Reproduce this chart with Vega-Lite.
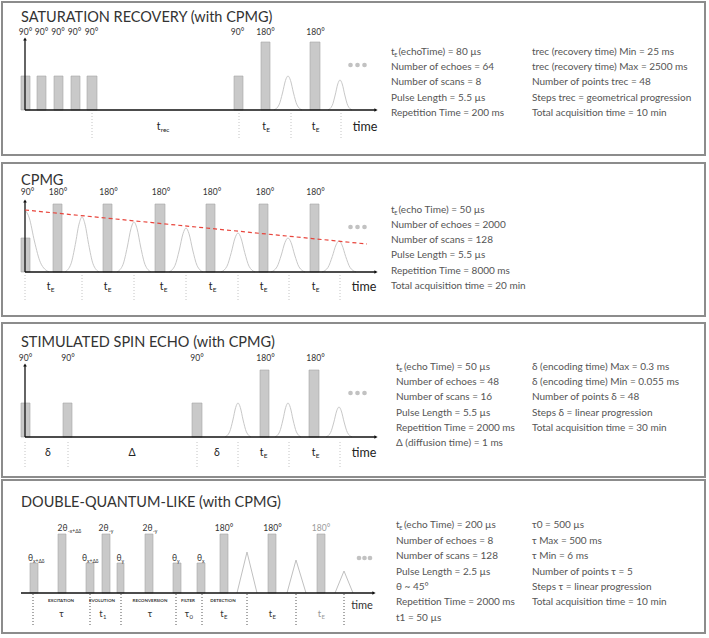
{
  "$schema": "https://vega.github.io/schema/vega-lite/v6.json",
  "width": 709,
  "height": 638,
  "autosize": "none",
  "padding": 0,
  "background": "white",
  "config": {"view": {"stroke": null}, "text": {"font": "Lato"}},
  "datasets": {
    "frames": [
      {"x": 2, "x2": 705, "y": 2, "y2": 155},
      {"x": 2, "x2": 705, "y": 163, "y2": 316},
      {"x": 2, "x2": 705, "y": 323, "y2": 477},
      {"x": 2, "x2": 705, "y": 480, "y2": 633}
    ],
    "axes": [
      {"x": 25, "y": 110, "x2": 25, "y2": 39},
      {"x": 25, "y": 110, "x2": 376, "y2": 110},
      {"x": 25, "y": 272, "x2": 25, "y2": 201},
      {"x": 25, "y": 272, "x2": 376, "y2": 272},
      {"x": 25, "y": 437, "x2": 25, "y2": 365},
      {"x": 25, "y": 437, "x2": 376, "y2": 437},
      {"x": 21, "y": 593, "x2": 374, "y2": 593}
    ],
    "arrows": [
      {"x": 25, "y": 39, "dir": "up"},
      {"x": 376, "y": 110, "dir": "right"},
      {"x": 25, "y": 201, "dir": "up"},
      {"x": 376, "y": 272, "dir": "right"},
      {"x": 25, "y": 365, "dir": "up"},
      {"x": 376, "y": 437, "dir": "right"},
      {"x": 374, "y": 593, "dir": "right"}
    ],
    "bars": [
      {"x": 21, "x2": 30, "y": 76, "y2": 110},
      {"x": 37, "x2": 46, "y": 76, "y2": 110},
      {"x": 54, "x2": 63, "y": 76, "y2": 110},
      {"x": 71, "x2": 80, "y": 76, "y2": 110},
      {"x": 87, "x2": 97, "y": 76, "y2": 110},
      {"x": 234, "x2": 243, "y": 76, "y2": 110},
      {"x": 261, "x2": 270, "y": 42, "y2": 110},
      {"x": 310, "x2": 320, "y": 42, "y2": 110},
      {"x": 21, "x2": 30, "y": 238, "y2": 272},
      {"x": 53, "x2": 62, "y": 204, "y2": 272},
      {"x": 103, "x2": 112, "y": 204, "y2": 272},
      {"x": 155, "x2": 165, "y": 204, "y2": 272},
      {"x": 206, "x2": 215, "y": 204, "y2": 272},
      {"x": 259, "x2": 268, "y": 204, "y2": 272},
      {"x": 310, "x2": 319, "y": 204, "y2": 272},
      {"x": 21, "x2": 30, "y": 403, "y2": 437},
      {"x": 63, "x2": 72, "y": 403, "y2": 437},
      {"x": 192, "x2": 202, "y": 403, "y2": 437},
      {"x": 260, "x2": 269, "y": 370, "y2": 437},
      {"x": 309, "x2": 319, "y": 370, "y2": 437},
      {"x": 30, "x2": 38, "y": 563, "y2": 593},
      {"x": 58, "x2": 66, "y": 534, "y2": 593},
      {"x": 86, "x2": 94, "y": 563, "y2": 593},
      {"x": 102, "x2": 110, "y": 534, "y2": 593},
      {"x": 117, "x2": 124, "y": 563, "y2": 593},
      {"x": 145, "x2": 153, "y": 534, "y2": 593},
      {"x": 173, "x2": 181, "y": 563, "y2": 593},
      {"x": 197, "x2": 205, "y": 563, "y2": 593},
      {"x": 220, "x2": 228, "y": 534, "y2": 593},
      {"x": 268, "x2": 276, "y": 534, "y2": 593},
      {"x": 317, "x2": 325, "y": 534, "y2": 593}
    ],
    "echoes": [
      {"id": "a1", "x": 274, "y": 110}, {"id": "a1", "x": 279, "y": 104.9}, {"id": "a1", "x": 282.5, "y": 93}, {"id": "a1", "x": 285.5, "y": 80.4}, {"id": "a1", "x": 288, "y": 76}, {"id": "a1", "x": 290.5, "y": 80.4}, {"id": "a1", "x": 293.5, "y": 93}, {"id": "a1", "x": 297, "y": 104.9}, {"id": "a1", "x": 302, "y": 110},
      {"id": "a2", "x": 328, "y": 110}, {"id": "a2", "x": 332.2, "y": 105.5}, {"id": "a2", "x": 335.2, "y": 95}, {"id": "a2", "x": 337.8, "y": 83.9}, {"id": "a2", "x": 340, "y": 80}, {"id": "a2", "x": 342.2, "y": 83.9}, {"id": "a2", "x": 344.8, "y": 95}, {"id": "a2", "x": 347.8, "y": 105.5}, {"id": "a2", "x": 352, "y": 110},
      {"id": "b0", "x": 25, "y": 210}, {"id": "b0", "x": 29.3, "y": 218}, {"id": "b0", "x": 34.4, "y": 241}, {"id": "b0", "x": 40.5, "y": 262.7}, {"id": "b0", "x": 49, "y": 272},
      {"id": "b1", "x": 65, "y": 272}, {"id": "b1", "x": 71, "y": 263.8}, {"id": "b1", "x": 75.3, "y": 244.5}, {"id": "b1", "x": 79, "y": 224.2}, {"id": "b1", "x": 82, "y": 217}, {"id": "b1", "x": 85, "y": 224.2}, {"id": "b1", "x": 88.7, "y": 244.5}, {"id": "b1", "x": 93, "y": 263.8}, {"id": "b1", "x": 99, "y": 272},
      {"id": "b2", "x": 117, "y": 272}, {"id": "b2", "x": 123, "y": 264.5}, {"id": "b2", "x": 127.3, "y": 247}, {"id": "b2", "x": 131, "y": 228.5}, {"id": "b2", "x": 134, "y": 222}, {"id": "b2", "x": 137, "y": 228.5}, {"id": "b2", "x": 140.7, "y": 247}, {"id": "b2", "x": 145, "y": 264.5}, {"id": "b2", "x": 151, "y": 272},
      {"id": "b3", "x": 169, "y": 272}, {"id": "b3", "x": 175, "y": 265.4}, {"id": "b3", "x": 179.3, "y": 250}, {"id": "b3", "x": 183, "y": 233.7}, {"id": "b3", "x": 186, "y": 228}, {"id": "b3", "x": 189, "y": 233.7}, {"id": "b3", "x": 192.7, "y": 250}, {"id": "b3", "x": 197, "y": 265.4}, {"id": "b3", "x": 203, "y": 272},
      {"id": "b4", "x": 221, "y": 272}, {"id": "b4", "x": 227, "y": 266.2}, {"id": "b4", "x": 231.3, "y": 252.5}, {"id": "b4", "x": 235, "y": 238.1}, {"id": "b4", "x": 238, "y": 233}, {"id": "b4", "x": 241, "y": 238.1}, {"id": "b4", "x": 244.7, "y": 252.5}, {"id": "b4", "x": 249, "y": 266.2}, {"id": "b4", "x": 255, "y": 272},
      {"id": "b5", "x": 271, "y": 272}, {"id": "b5", "x": 277, "y": 266.9}, {"id": "b5", "x": 281.3, "y": 255}, {"id": "b5", "x": 285, "y": 242.4}, {"id": "b5", "x": 288, "y": 238}, {"id": "b5", "x": 291, "y": 242.4}, {"id": "b5", "x": 294.7, "y": 255}, {"id": "b5", "x": 299, "y": 266.9}, {"id": "b5", "x": 305, "y": 272},
      {"id": "b6", "x": 322, "y": 272}, {"id": "b6", "x": 328, "y": 267.4}, {"id": "b6", "x": 332.3, "y": 256.5}, {"id": "b6", "x": 336, "y": 245}, {"id": "b6", "x": 339, "y": 241}, {"id": "b6", "x": 342, "y": 245}, {"id": "b6", "x": 345.7, "y": 256.5}, {"id": "b6", "x": 350, "y": 267.4}, {"id": "b6", "x": 356, "y": 272},
      {"id": "c1", "x": 225, "y": 437}, {"id": "c1", "x": 229.6, "y": 431.9}, {"id": "c1", "x": 232.9, "y": 420}, {"id": "c1", "x": 235.7, "y": 407.4}, {"id": "c1", "x": 238, "y": 403}, {"id": "c1", "x": 240.3, "y": 407.4}, {"id": "c1", "x": 243.1, "y": 420}, {"id": "c1", "x": 246.4, "y": 431.9}, {"id": "c1", "x": 251, "y": 437},
      {"id": "c2", "x": 275, "y": 437}, {"id": "c2", "x": 279.6, "y": 431.9}, {"id": "c2", "x": 282.9, "y": 420}, {"id": "c2", "x": 285.7, "y": 407.4}, {"id": "c2", "x": 288, "y": 403}, {"id": "c2", "x": 290.3, "y": 407.4}, {"id": "c2", "x": 293.1, "y": 420}, {"id": "c2", "x": 296.4, "y": 431.9}, {"id": "c2", "x": 301, "y": 437},
      {"id": "c3", "x": 326, "y": 437}, {"id": "c3", "x": 330.6, "y": 432.5}, {"id": "c3", "x": 333.9, "y": 422}, {"id": "c3", "x": 336.7, "y": 410.9}, {"id": "c3", "x": 339, "y": 407}, {"id": "c3", "x": 341.3, "y": 410.9}, {"id": "c3", "x": 344.1, "y": 422}, {"id": "c3", "x": 347.4, "y": 432.5}, {"id": "c3", "x": 352, "y": 437}
    ],
    "triangles": [
      {"id": "d1", "x": 237, "y": 593}, {"id": "d1", "x": 247, "y": 552}, {"id": "d1", "x": 257, "y": 593},
      {"id": "d2", "x": 287, "y": 593}, {"id": "d2", "x": 296, "y": 560}, {"id": "d2", "x": 306, "y": 593},
      {"id": "d3", "x": 335, "y": 593}, {"id": "d3", "x": 344, "y": 571}, {"id": "d3", "x": 353, "y": 593}
    ],
    "decay": [{"x": 25, "y": 210, "x2": 367, "y2": 244}],
    "guides": [
      {"p": 1, "x": 92, "y": 113, "y2": 138}, {"p": 1, "x": 239, "y": 113, "y2": 138}, {"p": 1, "x": 291, "y": 113, "y2": 138}, {"p": 1, "x": 341, "y": 113, "y2": 138},
      {"p": 2, "x": 25, "y": 275, "y2": 300}, {"p": 2, "x": 82, "y": 275, "y2": 300}, {"p": 2, "x": 134, "y": 275, "y2": 300}, {"p": 2, "x": 186, "y": 275, "y2": 300}, {"p": 2, "x": 238, "y": 275, "y2": 300}, {"p": 2, "x": 289, "y": 275, "y2": 300}, {"p": 2, "x": 340, "y": 275, "y2": 300},
      {"p": 3, "x": 25, "y": 442, "y2": 467}, {"p": 3, "x": 68, "y": 442, "y2": 467}, {"p": 3, "x": 197, "y": 442, "y2": 467}, {"p": 3, "x": 238, "y": 442, "y2": 467}, {"p": 3, "x": 289, "y": 442, "y2": 467}, {"p": 3, "x": 340, "y": 442, "y2": 467},
      {"p": 4, "x": 33, "y": 594, "y2": 625}, {"p": 4, "x": 90, "y": 594, "y2": 625}, {"p": 4, "x": 121, "y": 594, "y2": 625}, {"p": 4, "x": 176, "y": 594, "y2": 625}, {"p": 4, "x": 202, "y": 594, "y2": 625}, {"p": 4, "x": 247, "y": 594, "y2": 625}, {"p": 4, "x": 296, "y": 594, "y2": 625}, {"p": 4, "x": 344, "y": 594, "y2": 625}
    ],
    "dots": [
      {"x": 350.5, "y": 65}, {"x": 357.5, "y": 65}, {"x": 364.5, "y": 65},
      {"x": 350.5, "y": 227}, {"x": 357.5, "y": 227}, {"x": 364.5, "y": 227},
      {"x": 350.5, "y": 393}, {"x": 357.5, "y": 393}, {"x": 364.5, "y": 393},
      {"x": 359, "y": 558}, {"x": 364.5, "y": 558}, {"x": 370, "y": 558}
    ],
    "texts": [
      {"k": "title", "t": "SATURATION RECOVERY (with CPMG)", "x": 21, "y": 18},
      {"k": "title", "t": "CPMG", "x": 21, "y": 181},
      {"k": "title", "t": "STIMULATED SPIN ECHO (with CPMG)", "x": 21, "y": 343},
      {"k": "title", "t": "DOUBLE-QUANTUM-LIKE (with CPMG)", "x": 21, "y": 503},

      {"k": "pulse", "t": "90°", "x": 25.5, "y": 32},
      {"k": "pulse", "t": "90°", "x": 41.5, "y": 32},
      {"k": "pulse", "t": "90°", "x": 58, "y": 32},
      {"k": "pulse", "t": "90°", "x": 74.5, "y": 32},
      {"k": "pulse", "t": "90°", "x": 91.5, "y": 32},
      {"k": "pulse", "t": "90°", "x": 237.5, "y": 32},
      {"k": "pulse", "t": "180°", "x": 265.5, "y": 32},
      {"k": "pulse", "t": "180°", "x": 315.5, "y": 32},
      {"k": "pulse", "t": "90°", "x": 27.5, "y": 192},
      {"k": "pulse", "t": "180°", "x": 58, "y": 192},
      {"k": "pulse", "t": "180°", "x": 108.5, "y": 192},
      {"k": "pulse", "t": "180°", "x": 161, "y": 192},
      {"k": "pulse", "t": "180°", "x": 212, "y": 192},
      {"k": "pulse", "t": "180°", "x": 265, "y": 192},
      {"k": "pulse", "t": "180°", "x": 315.5, "y": 192},
      {"k": "pulse", "t": "90°", "x": 25.5, "y": 358},
      {"k": "pulse", "t": "90°", "x": 68, "y": 358},
      {"k": "pulse", "t": "90°", "x": 197, "y": 358},
      {"k": "pulse", "t": "180°", "x": 265.5, "y": 358},
      {"k": "pulse", "t": "180°", "x": 315.5, "y": 358},
      {"k": "pulse", "t": "180°", "x": 224, "y": 528},
      {"k": "pulse", "t": "180°", "x": 272.5, "y": 528},
      {"k": "pulseFaint", "t": "180°", "x": 321, "y": 528},

      {"k": "theta", "t": "θ", "x": 28, "y": 558},
      {"k": "thetaSub", "t": "x+Δδ", "x": 33, "y": 560.5},
      {"k": "theta", "t": "2θ", "x": 57.5, "y": 528},
      {"k": "thetaSub", "t": "-x+Δδ", "x": 68, "y": 530.5},
      {"k": "theta", "t": "θ", "x": 82, "y": 558},
      {"k": "thetaSub", "t": "x+Δδ", "x": 87, "y": 560.5},
      {"k": "theta", "t": "2θ", "x": 98.5, "y": 528},
      {"k": "thetaSub", "t": "-y", "x": 109, "y": 530.5},
      {"k": "theta", "t": "θ", "x": 116.5, "y": 558},
      {"k": "thetaSub", "t": "y", "x": 121.5, "y": 560.5},
      {"k": "theta", "t": "2θ", "x": 142.5, "y": 528},
      {"k": "thetaSub", "t": "-y", "x": 153, "y": 530.5},
      {"k": "theta", "t": "θ", "x": 172, "y": 558},
      {"k": "thetaSub", "t": "y", "x": 177, "y": 560.5},
      {"k": "theta", "t": "θ", "x": 197, "y": 558},
      {"k": "thetaSub", "t": "x", "x": 202, "y": 560.5},

      {"k": "interval", "t": "t", "x": 158.5, "y": 127},
      {"k": "sub", "t": "rec", "x": 160.7, "y": 129.5},
      {"k": "interval", "t": "t", "x": 264, "y": 127},
      {"k": "sub", "t": "E", "x": 266.2, "y": 129.5},
      {"k": "interval", "t": "t", "x": 313.5, "y": 127},
      {"k": "sub", "t": "E", "x": 315.7, "y": 129.5},
      {"k": "time", "t": "time", "x": 365, "y": 127},

      {"k": "interval", "t": "t", "x": 48.5, "y": 287},
      {"k": "sub", "t": "E", "x": 50.7, "y": 289.5},
      {"k": "interval", "t": "t", "x": 105.5, "y": 287},
      {"k": "sub", "t": "E", "x": 107.7, "y": 289.5},
      {"k": "interval", "t": "t", "x": 161.5, "y": 287},
      {"k": "sub", "t": "E", "x": 163.7, "y": 289.5},
      {"k": "interval", "t": "t", "x": 210.5, "y": 287},
      {"k": "sub", "t": "E", "x": 212.7, "y": 289.5},
      {"k": "interval", "t": "t", "x": 261.5, "y": 287},
      {"k": "sub", "t": "E", "x": 263.7, "y": 289.5},
      {"k": "interval", "t": "t", "x": 313.5, "y": 287},
      {"k": "sub", "t": "E", "x": 315.7, "y": 289.5},
      {"k": "time", "t": "time", "x": 364, "y": 287},

      {"k": "interval", "t": "δ", "x": 48, "y": 453},
      {"k": "interval", "t": "Δ", "x": 132, "y": 453},
      {"k": "interval", "t": "δ", "x": 217, "y": 453},
      {"k": "interval", "t": "t", "x": 261.5, "y": 453},
      {"k": "sub", "t": "E", "x": 263.7, "y": 455.5},
      {"k": "interval", "t": "t", "x": 313.5, "y": 453},
      {"k": "sub", "t": "E", "x": 315.7, "y": 455.5},
      {"k": "time", "t": "time", "x": 364, "y": 453},

      {"k": "tiny", "t": "EXCITATION", "x": 61, "y": 601},
      {"k": "tiny", "t": "EVOLUTION", "x": 102, "y": 601},
      {"k": "tiny", "t": "RECONVERSION", "x": 150, "y": 601},
      {"k": "tiny", "t": "FILTER", "x": 188, "y": 601},
      {"k": "tiny", "t": "DETECTION", "x": 223, "y": 601},
      {"k": "interval4", "t": "τ", "x": 61.5, "y": 614},
      {"k": "interval4", "t": "t", "x": 101, "y": 614},
      {"k": "sub4", "t": "1", "x": 103, "y": 616.5},
      {"k": "interval4", "t": "τ", "x": 150, "y": 614},
      {"k": "interval4", "t": "τ", "x": 187, "y": 614},
      {"k": "sub4", "t": "0", "x": 189.5, "y": 616.5},
      {"k": "interval4", "t": "t", "x": 222, "y": 614},
      {"k": "sub4", "t": "E", "x": 224, "y": 616.5},
      {"k": "interval4", "t": "t", "x": 270.5, "y": 614},
      {"k": "sub4", "t": "E", "x": 272.5, "y": 616.5},
      {"k": "interval4Faint", "t": "t", "x": 319.5, "y": 614},
      {"k": "sub4Faint", "t": "E", "x": 321.5, "y": 616.5},
      {"k": "time4", "t": "time", "x": 362, "y": 606},

      {"k": "info", "t": "t", "x": 391, "y": 52},
      {"k": "infoSub", "t": "E", "x": 394.3, "y": 54.5},
      {"k": "info", "t": "(echoTime) = 80 µs", "x": 398.5, "y": 52},
      {"k": "info", "t": "Number of echoes = 64", "x": 391, "y": 67},
      {"k": "info", "t": "Number of scans = 8", "x": 391, "y": 82},
      {"k": "info", "t": "Pulse Length = 5.5 µs", "x": 391, "y": 98},
      {"k": "info", "t": "Repetition Time = 200 ms", "x": 391, "y": 113},
      {"k": "info", "t": "trec (recovery time) Min = 25 ms", "x": 532, "y": 52},
      {"k": "info", "t": "trec (recovery time) Max = 2500 ms", "x": 532, "y": 67},
      {"k": "info", "t": "Number of points trec = 48", "x": 532, "y": 82},
      {"k": "info", "t": "Steps trec = geometrical progression", "x": 532, "y": 98},
      {"k": "info", "t": "Total acquisition time = 10 min", "x": 532, "y": 113},

      {"k": "info", "t": "t", "x": 391, "y": 210},
      {"k": "infoSub", "t": "E", "x": 394.3, "y": 212.5},
      {"k": "info", "t": "(echo Time) = 50 µs", "x": 398.5, "y": 210},
      {"k": "info", "t": "Number of echoes = 2000", "x": 391, "y": 225},
      {"k": "info", "t": "Number of scans = 128", "x": 391, "y": 240},
      {"k": "info", "t": "Pulse Length = 5.5 µs", "x": 391, "y": 255},
      {"k": "info", "t": "Repetition Time = 8000 ms", "x": 391, "y": 271},
      {"k": "info", "t": "Total acquisition time = 20 min", "x": 391, "y": 286},

      {"k": "info", "t": "t", "x": 396, "y": 367},
      {"k": "infoSub", "t": "E", "x": 399.3, "y": 369.5},
      {"k": "info", "t": "(echo Time) = 50 µs", "x": 404, "y": 367},
      {"k": "info", "t": "Number of echoes = 48", "x": 396, "y": 382},
      {"k": "info", "t": "Number of scans = 16", "x": 396, "y": 397},
      {"k": "info", "t": "Pulse Length = 5.5 µs", "x": 396, "y": 413},
      {"k": "info", "t": "Repetition Time = 2000 ms", "x": 396, "y": 428},
      {"k": "info", "t": "Δ (diffusion time) = 1 ms", "x": 396, "y": 443},
      {"k": "info", "t": "δ (encoding time) Max = 0.3 ms", "x": 532, "y": 367},
      {"k": "info", "t": "δ (encoding time) Min = 0.055 ms", "x": 532, "y": 382},
      {"k": "info", "t": "Number of points δ = 48", "x": 532, "y": 397},
      {"k": "info", "t": "Steps δ = linear progression", "x": 532, "y": 413},
      {"k": "info", "t": "Total acquisition time = 30 min", "x": 532, "y": 428},

      {"k": "info", "t": "t", "x": 396, "y": 525},
      {"k": "infoSub", "t": "E", "x": 399.3, "y": 527.5},
      {"k": "info", "t": "(echo Time) = 200 µs", "x": 404, "y": 525},
      {"k": "info", "t": "Number of echoes = 8", "x": 396, "y": 541},
      {"k": "info", "t": "Number of scans = 128", "x": 396, "y": 556},
      {"k": "info", "t": "Pulse Length = 2.5 µs", "x": 396, "y": 572},
      {"k": "info", "t": "θ ~ 45°", "x": 396, "y": 587},
      {"k": "info", "t": "Repetition Time = 2000 ms", "x": 396, "y": 602},
      {"k": "info", "t": "t1 = 50 µs", "x": 396, "y": 618},
      {"k": "info", "t": "τ0 = 500 µs", "x": 532, "y": 525},
      {"k": "info", "t": "τ Max = 500 ms", "x": 532, "y": 541},
      {"k": "info", "t": "τ Min = 6 ms", "x": 532, "y": 556},
      {"k": "info", "t": "Number of points τ = 5", "x": 532, "y": 572},
      {"k": "info", "t": "Steps τ = linear progression", "x": 532, "y": 587},
      {"k": "info", "t": "Total acquisition time = 10 min", "x": 532, "y": 602}
    ]
  },
  "layer": [
    {
      "data": {"name": "frames"},
      "mark": {"type": "rect", "fill": "white", "stroke": "#8c8c8c", "strokeWidth": 2},
      "encoding": {
        "x": {"field": "x", "type": "quantitative", "scale": {"domain": [0, 709], "range": [0, 709], "nice": false, "zero": false}, "axis": null},
        "x2": {"field": "x2"},
        "y": {"field": "y", "type": "quantitative", "scale": {"domain": [0, 638], "range": [0, 638], "nice": false, "zero": false}, "axis": null},
        "y2": {"field": "y2"}
      }
    },
    {
      "data": {"name": "guides"},
      "mark": {"type": "rule", "strokeDash": [1, 2], "strokeWidth": 1},
      "encoding": {
        "x": {"field": "x", "type": "quantitative"},
        "y": {"field": "y", "type": "quantitative"},
        "y2": {"field": "y2"},
        "color": {"condition": {"test": "datum.p == 4", "value": "#555555"}, "value": "#c4c4c4"}
      }
    },
    {
      "data": {"name": "echoes"},
      "mark": {"type": "line", "interpolate": "monotone", "color": "#c8c8c8", "strokeWidth": 1},
      "encoding": {
        "x": {"field": "x", "type": "quantitative"},
        "y": {"field": "y", "type": "quantitative"},
        "detail": {"field": "id"},
        "order": {"field": "x", "type": "quantitative"}
      }
    },
    {
      "data": {"name": "triangles"},
      "mark": {"type": "line", "color": "#c0c0c0", "strokeWidth": 1},
      "encoding": {
        "x": {"field": "x", "type": "quantitative"},
        "y": {"field": "y", "type": "quantitative"},
        "detail": {"field": "id"},
        "order": {"field": "x", "type": "quantitative"}
      }
    },
    {
      "data": {"name": "bars"},
      "mark": {"type": "rect", "fill": "#c9c9c9", "stroke": "#a6a6a6", "strokeWidth": 0.6},
      "encoding": {
        "x": {"field": "x", "type": "quantitative"},
        "x2": {"field": "x2"},
        "y": {"field": "y", "type": "quantitative"},
        "y2": {"field": "y2"}
      }
    },
    {
      "data": {"name": "axes"},
      "mark": {"type": "rule", "color": "#111111", "strokeWidth": 1.3},
      "encoding": {
        "x": {"field": "x", "type": "quantitative"},
        "y": {"field": "y", "type": "quantitative"},
        "x2": {"field": "x2"},
        "y2": {"field": "y2"}
      }
    },
    {
      "data": {"name": "arrows"},
      "mark": {"type": "point", "filled": true, "color": "#111111", "size": 14, "opacity": 1},
      "encoding": {
        "x": {"field": "x", "type": "quantitative"},
        "y": {"field": "y", "type": "quantitative"},
        "shape": {"field": "dir", "type": "nominal", "scale": {"domain": ["up", "right"], "range": ["triangle-up", "triangle-right"]}, "legend": null}
      }
    },
    {
      "data": {"name": "decay"},
      "mark": {"type": "rule", "color": "#e8453c", "strokeWidth": 1.2, "strokeDash": [4, 3]},
      "encoding": {
        "x": {"field": "x", "type": "quantitative"},
        "y": {"field": "y", "type": "quantitative"},
        "x2": {"field": "x2"},
        "y2": {"field": "y2"}
      }
    },
    {
      "data": {"name": "dots"},
      "mark": {"type": "circle", "color": "#c2c2c2", "size": 22, "opacity": 1},
      "encoding": {
        "x": {"field": "x", "type": "quantitative"},
        "y": {"field": "y", "type": "quantitative"}
      }
    },
    {
      "data": {"name": "texts"},
      "transform": [{"filter": "datum.k == 'title'"}],
      "mark": {"type": "text", "align": "left", "baseline": "middle", "fontSize": 14.5, "color": "#333333"},
      "encoding": {"x": {"field": "x", "type": "quantitative"}, "y": {"field": "y", "type": "quantitative"}, "text": {"field": "t"}}
    },
    {
      "data": {"name": "texts"},
      "transform": [{"filter": "datum.k == 'pulse' || datum.k == 'pulseFaint'"}],
      "mark": {"type": "text", "align": "center", "baseline": "middle", "fontSize": 8.5},
      "encoding": {"x": {"field": "x", "type": "quantitative"}, "y": {"field": "y", "type": "quantitative"}, "text": {"field": "t"},
        "color": {"condition": {"test": "datum.k == 'pulseFaint'", "value": "#9a9a9a"}, "value": "#333333"}}
    },
    {
      "data": {"name": "texts"},
      "transform": [{"filter": "datum.k == 'theta'"}],
      "mark": {"type": "text", "align": "left", "baseline": "middle", "fontSize": 8.5, "color": "#333333"},
      "encoding": {"x": {"field": "x", "type": "quantitative"}, "y": {"field": "y", "type": "quantitative"}, "text": {"field": "t"}}
    },
    {
      "data": {"name": "texts"},
      "transform": [{"filter": "datum.k == 'thetaSub'"}],
      "mark": {"type": "text", "align": "left", "baseline": "middle", "fontSize": 5, "color": "#333333"},
      "encoding": {"x": {"field": "x", "type": "quantitative"}, "y": {"field": "y", "type": "quantitative"}, "text": {"field": "t"}}
    },
    {
      "data": {"name": "texts"},
      "transform": [{"filter": "datum.k == 'interval'"}],
      "mark": {"type": "text", "align": "center", "baseline": "middle", "fontSize": 10.5, "color": "#222222"},
      "encoding": {"x": {"field": "x", "type": "quantitative"}, "y": {"field": "y", "type": "quantitative"}, "text": {"field": "t"}}
    },
    {
      "data": {"name": "texts"},
      "transform": [{"filter": "datum.k == 'sub'"}],
      "mark": {"type": "text", "align": "left", "baseline": "middle", "fontSize": 6.5, "color": "#222222"},
      "encoding": {"x": {"field": "x", "type": "quantitative"}, "y": {"field": "y", "type": "quantitative"}, "text": {"field": "t"}}
    },
    {
      "data": {"name": "texts"},
      "transform": [{"filter": "datum.k == 'time'"}],
      "mark": {"type": "text", "align": "center", "baseline": "middle", "fontSize": 12.5, "color": "#222222"},
      "encoding": {"x": {"field": "x", "type": "quantitative"}, "y": {"field": "y", "type": "quantitative"}, "text": {"field": "t"}}
    },
    {
      "data": {"name": "texts"},
      "transform": [{"filter": "datum.k == 'time4'"}],
      "mark": {"type": "text", "align": "center", "baseline": "middle", "fontSize": 11, "color": "#333333"},
      "encoding": {"x": {"field": "x", "type": "quantitative"}, "y": {"field": "y", "type": "quantitative"}, "text": {"field": "t"}}
    },
    {
      "data": {"name": "texts"},
      "transform": [{"filter": "datum.k == 'tiny'"}],
      "mark": {"type": "text", "align": "center", "baseline": "middle", "fontSize": 4.5, "fontWeight": "bold", "color": "#333333"},
      "encoding": {"x": {"field": "x", "type": "quantitative"}, "y": {"field": "y", "type": "quantitative"}, "text": {"field": "t"}}
    },
    {
      "data": {"name": "texts"},
      "transform": [{"filter": "datum.k == 'interval4' || datum.k == 'interval4Faint'"}],
      "mark": {"type": "text", "align": "center", "baseline": "middle", "fontSize": 9.5},
      "encoding": {"x": {"field": "x", "type": "quantitative"}, "y": {"field": "y", "type": "quantitative"}, "text": {"field": "t"},
        "color": {"condition": {"test": "datum.k == 'interval4Faint'", "value": "#9a9a9a"}, "value": "#333333"}}
    },
    {
      "data": {"name": "texts"},
      "transform": [{"filter": "datum.k == 'sub4' || datum.k == 'sub4Faint'"}],
      "mark": {"type": "text", "align": "left", "baseline": "middle", "fontSize": 6},
      "encoding": {"x": {"field": "x", "type": "quantitative"}, "y": {"field": "y", "type": "quantitative"}, "text": {"field": "t"},
        "color": {"condition": {"test": "datum.k == 'sub4Faint'", "value": "#9a9a9a"}, "value": "#333333"}}
    },
    {
      "data": {"name": "texts"},
      "transform": [{"filter": "datum.k == 'info'"}],
      "mark": {"type": "text", "align": "left", "baseline": "middle", "fontSize": 10, "color": "#555555"},
      "encoding": {"x": {"field": "x", "type": "quantitative"}, "y": {"field": "y", "type": "quantitative"}, "text": {"field": "t"}}
    },
    {
      "data": {"name": "texts"},
      "transform": [{"filter": "datum.k == 'infoSub'"}],
      "mark": {"type": "text", "align": "left", "baseline": "middle", "fontSize": 5.5, "color": "#555555"},
      "encoding": {"x": {"field": "x", "type": "quantitative"}, "y": {"field": "y", "type": "quantitative"}, "text": {"field": "t"}}
    }
  ]
}
